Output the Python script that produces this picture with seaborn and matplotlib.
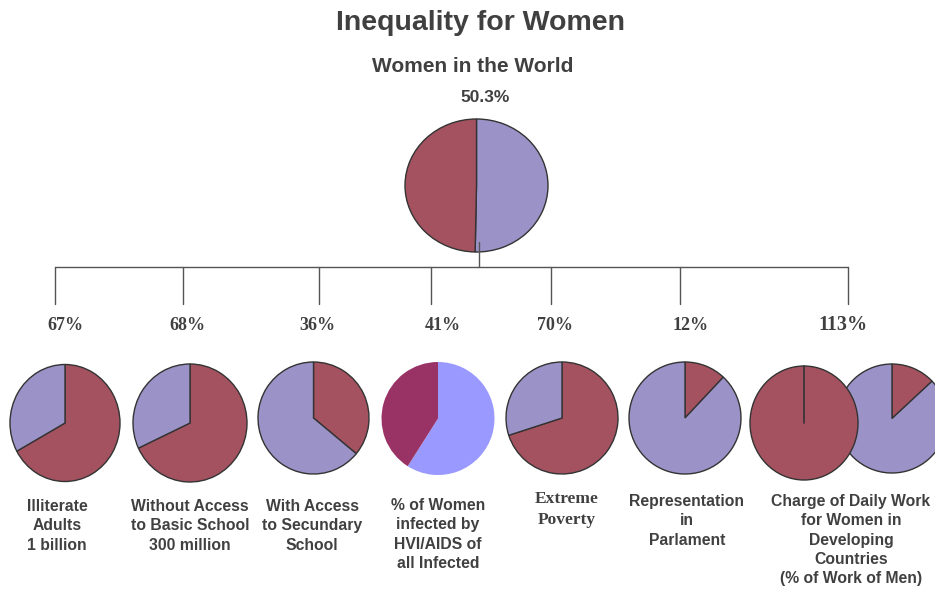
import matplotlib
matplotlib.use("Agg")
import matplotlib.pyplot as plt
import seaborn as sns

# Data
world_women_pct = 50.3
women_pct = [67, 68, 36, 41, 70, 12, 113]
pct_labels = ['67%', '68%', '36%', '41%', '70%', '12%', '113%']
categories = [
    'Illiterate\nAdults\n1 billion',
    'Without Access\nto Basic School\n300 million',
    'With Access\nto Secundary\nSchool',
    '% of Women\ninfected by\nHVI/AIDS of\nall Infected',
    'Extreme\nPoverty',
    'Representation\nin\nParlament',
    'Charge of Daily Work\nfor Women in\nDeveloping\nCountries\n(% of Work of Men)',
]

sns.set_theme(style='white')
plt.rcParams['font.family'] = ['Liberation Sans', 'DejaVu Sans']

W, H = 935, 590
RED = '#A45260'
PURPLE = '#9B93C7'
MAGENTA = '#993366'
BLUE = '#9999FF'
EDGE = '#333333'
TXT = '#404040'

fig = plt.figure(figsize=(W / 100, H / 100), dpi=100)
main = fig.add_axes([0, 0, 1, 1], zorder=5)
main.set_xlim(0, W)
main.set_ylim(H, 0)
main.axis('off')


def pie_axes(cx, cy, rx, ry, zorder=1):
    pad = 1.03
    ax = fig.add_axes([(cx - rx * pad) / W, 1 - (cy + ry * pad) / H,
                       2 * rx * pad / W, 2 * ry * pad / H], zorder=zorder)
    return ax


def draw_pie(ax, values, colors, edge=True):
    lw = 1.0 if edge else 0
    ax.pie(values, colors=colors, startangle=90, counterclock=False,
           wedgeprops=dict(edgecolor=EDGE, linewidth=lw))
    ax.set_aspect('auto')
    ax.set_xlim(-1.03, 1.03)
    ax.set_ylim(-1.03, 1.03)
    ax.axis('off')


# Big pie: women in the world
ax = pie_axes(476.5, 185.5, 71.5, 66.5)
draw_pie(ax, [world_women_pct, 100 - world_women_pct], [PURPLE, RED])

# Small pies (center x, center y, rx, ry)
small_pos = [(65, 423, 55, 58.5), (190, 423, 57, 59), (313.5, 418, 55.5, 56),
             (438, 418.5, 56.5, 56.5), (562, 418, 56, 56), (685, 418, 56, 56)]
for i, (cx, cy, rx, ry) in enumerate(small_pos):
    ax = pie_axes(cx, cy, rx, ry)
    v = women_pct[i]
    if i == 3:
        draw_pie(ax, [100 - v, v], [BLUE, MAGENTA], edge=False)
    else:
        draw_pie(ax, [v, 100 - v], [RED, PURPLE])

# 113%: one full pie plus the extra part behind it
extra = women_pct[6] - 100
ax = pie_axes(892, 418.5, 55, 54.5, zorder=1)
draw_pie(ax, [extra, 100 - extra], [RED, PURPLE])
ax = pie_axes(804, 423, 54, 57, zorder=2)
draw_pie(ax, [100], [RED])
ax.plot([0, 0], [0, 1], color=EDGE, lw=1.2)

# Tree connectors
drop_x = [55, 183, 319, 431, 551, 680, 848]
main.plot([drop_x[0], drop_x[-1]], [267, 267], color='#555555', lw=1)
main.plot([479, 479], [242, 267], color='#555555', lw=1)
for x in drop_x:
    main.plot([x, x], [267, 304], color='#555555', lw=1)

# Titles
main.text(480, 23, 'Inequality for Women', ha='center', va='center',
          fontsize=20.5, fontweight='bold', color=TXT)
main.text(473, 66, 'Women in the World', ha='center', va='center',
          fontsize=15, fontweight='bold', color=TXT)
main.text(485, 98, f'{world_women_pct}%', ha='center', va='center',
          fontsize=12.5, fontweight='bold', color=TXT)

# Percentages
pct_x = [65, 187, 317, 443, 555, 691, 843]
for i, (x, lab) in enumerate(zip(pct_x, pct_labels)):
    main.text(x, 325, lab, ha='center', va='center', family='Liberation Serif',
              fontsize=14.5 if i == 6 else 13, fontweight='bold', color=TXT)

# Category labels
lab_x = [57, 190, 312, 438, 567, 687, 851]
lab_top = [499, 499, 499, 498, 491, 494, 494]
for i, (x, y, lab) in enumerate(zip(lab_x, lab_top, categories)):
    if i == 4:
        main.text(x, y, lab, ha='center', va='top', family='Liberation Serif',
                  fontsize=12.5, fontweight='bold', color=TXT, linespacing=1.45)
    else:
        main.text(x, y, lab, ha='center', va='top', fontsize=11.3,
                  fontweight='bold', color=TXT, linespacing=1.36)

fig.savefig('out.png', dpi=100)
